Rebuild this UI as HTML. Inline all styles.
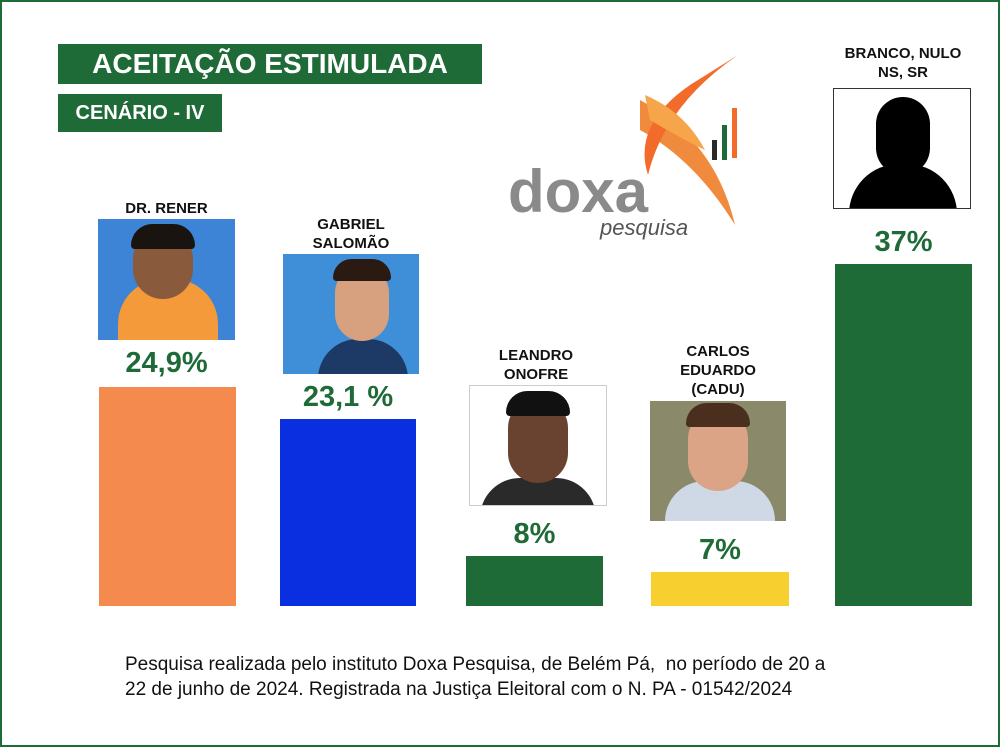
<!DOCTYPE html>
<html><head><meta charset="utf-8"><style>
body{margin:0;width:1000px;height:747px;background:#fff;overflow:hidden;font-family:"Liberation Sans",sans-serif;}
.frame{position:absolute;left:0;top:0;width:996px;height:743px;border:2px solid #1e6b3a;}
.abs{position:absolute;}
.t1{left:58px;top:44px;width:424px;height:40px;background:#1f6b38;color:#fff;font-weight:bold;font-size:28px;line-height:40px;text-align:center;}
.t2{left:58px;top:94px;width:164px;height:38px;background:#1f6b38;color:#fff;font-weight:bold;font-size:20px;line-height:38px;text-align:center;}
.name{font-weight:bold;font-size:15px;color:#111;text-align:center;line-height:19px;}
.pct{font-weight:bold;font-size:29px;color:#1f6b38;text-align:center;}
.bar{position:absolute;}
.ph{position:absolute;overflow:hidden;}
.foot{left:125px;top:652px;font-size:19px;color:#111;line-height:25px;}
</style></head><body>
<div class="frame"></div>
<div class="abs t1">ACEITAÇÃO ESTIMULADA</div>
<div class="abs t2">CENÁRIO - IV</div>

<!-- logo -->
<svg class="abs" style="left:500px;top:50px" width="260" height="200">
<path d="M140 50 Q215 90 235 175 Q195 110 140 80 Z" fill="#f08a3c"/>
<path d="M238 5 Q165 55 148 125 Q132 75 190 35 Z" fill="#f26b2a"/>
<path d="M145 45 Q185 62 205 100 Q180 88 150 70 Z" fill="#f7a54a"/>
<rect x="212" y="90" width="5" height="20" fill="#2a2a2a"/>
<rect x="222" y="75" width="5" height="35" fill="#1f6b38"/>
<rect x="232" y="58" width="5" height="50" fill="#f26b2a"/>
<text x="8" y="162" font-family="Liberation Sans,sans-serif" font-size="60" font-weight="bold" fill="#8a8a8a">doxa</text>
<text x="100" y="185" font-family="Liberation Sans,sans-serif" font-size="22" font-style="italic" fill="#555">pesquisa</text>
</svg>

<!-- 1 -->
<div class="abs name" style="left:98px;top:199px;width:137px">DR. RENER</div>
<div class="ph" style="left:98px;top:219px;width:137px;height:121px;background:#3d84d6">
<div class="abs" style="left:20px;top:60px;width:100px;height:70px;border-radius:45px 45px 0 0;background:#f49a3a"></div>
<div class="abs" style="left:35px;top:10px;width:60px;height:70px;border-radius:30px;background:#8a5a3c"></div>
<div class="abs" style="left:33px;top:5px;width:64px;height:25px;border-radius:30px 30px 5px 5px;background:#1a1410"></div>
</div>
<div class="abs pct" style="left:98px;top:347px;width:137px">24,9%</div>
<div class="bar" style="left:99px;top:387px;width:137px;height:219px;background:#f58a4f"></div>

<!-- 2 -->
<div class="abs name" style="left:283px;top:215px;width:136px">GABRIEL<br>SALOMÃO</div>
<div class="ph" style="left:283px;top:254px;width:136px;height:120px;background:#3f8fd8">
<div class="abs" style="left:35px;top:85px;width:90px;height:50px;border-radius:40px 40px 0 0;background:#1d3a66"></div>
<div class="abs" style="left:52px;top:12px;width:54px;height:75px;border-radius:27px;background:#d7a07e"></div>
<div class="abs" style="left:50px;top:5px;width:58px;height:22px;border-radius:28px 28px 5px 5px;background:#2a1a12"></div>
</div>
<div class="abs pct" style="left:280px;top:381px;width:136px">23,1 %</div>
<div class="bar" style="left:280px;top:419px;width:136px;height:187px;background:#0a2fe0"></div>

<!-- 3 -->
<div class="abs name" style="left:466px;top:346px;width:140px">LEANDRO<br>ONOFRE</div>
<div class="ph" style="left:469px;top:385px;width:136px;height:119px;background:#fff;border:1px solid #ccc">
<div class="abs" style="left:10px;top:92px;width:116px;height:40px;border-radius:40px 40px 0 0;background:#2a2a2a"></div>
<div class="abs" style="left:38px;top:12px;width:60px;height:85px;border-radius:30px;background:#6a4230"></div>
<div class="abs" style="left:36px;top:5px;width:64px;height:25px;border-radius:30px 30px 5px 5px;background:#111"></div>
</div>
<div class="abs pct" style="left:466px;top:518px;width:137px">8%</div>
<div class="bar" style="left:466px;top:556px;width:137px;height:50px;background:#1f6b38"></div>

<!-- 4 -->
<div class="abs name" style="left:650px;top:342px;width:136px">CARLOS<br>EDUARDO<br>(CADU)</div>
<div class="ph" style="left:650px;top:401px;width:136px;height:120px;background:#8a8a6a">
<div class="abs" style="left:15px;top:80px;width:110px;height:50px;border-radius:40px 40px 0 0;background:#cfd9e6"></div>
<div class="abs" style="left:38px;top:8px;width:60px;height:82px;border-radius:30px;background:#dba486"></div>
<div class="abs" style="left:36px;top:2px;width:64px;height:24px;border-radius:30px 30px 5px 5px;background:#4a2e1e"></div>
</div>
<div class="abs pct" style="left:651px;top:534px;width:138px">7%</div>
<div class="bar" style="left:651px;top:572px;width:138px;height:34px;background:#f7d030"></div>

<!-- 5 -->
<div class="abs name" style="left:833px;top:44px;width:140px">BRANCO, NULO<br>NS, SR</div>
<div class="ph" style="left:833px;top:88px;width:138px;height:121px;background:#fff;border:1px solid #333;box-sizing:border-box">
<div class="abs" style="left:15px;top:75px;width:108px;height:60px;border-radius:50px 50px 0 0;background:#000"></div>
<div class="abs" style="left:42px;top:8px;width:54px;height:78px;border-radius:27px;background:#000"></div>
</div>
<div class="abs pct" style="left:835px;top:226px;width:137px">37%</div>
<div class="bar" style="left:835px;top:264px;width:137px;height:342px;background:#1f6b38"></div>

<div class="abs foot">Pesquisa realizada pelo instituto Doxa Pesquisa, de Belém Pá,&nbsp; no período de 20 a<br>22 de junho de 2024. Registrada na Justiça Eleitoral com o N. PA - 01542/2024</div>
</body></html>
